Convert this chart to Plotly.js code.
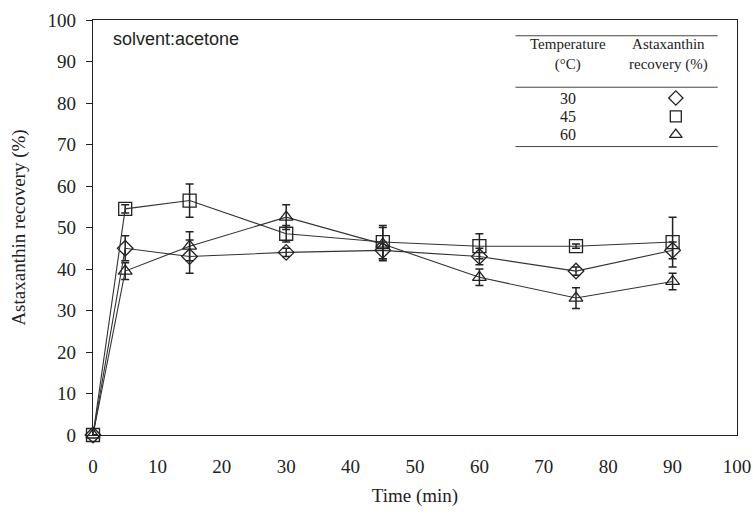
<!DOCTYPE html>
<html>
<head>
<meta charset="utf-8">
<script src="https://cdn.plot.ly/plotly-3.0.1.min.js"></script>
<style>
  html, body { margin: 0; padding: 0; background: #fff; }
  #chart { width: 753px; height: 516px; }
</style>
</head>
<body>
<div id="chart"></div>
<script>
// Extraction time (min)
const time = [0, 5, 15, 30, 45, 60, 75, 90];

// Astaxanthin recovery (%) and standard deviations per temperature
const rec30 = [0, 45, 43, 44, 44.5, 43, 39.5, 44.5];
const err30 = [0, 3, 4, 1, 2, 2, 1, 2];
const rec45 = [0, 54.5, 56.5, 48.5, 46.5, 45.5, 45.5, 46.5];
const err45 = [0, 1, 4, 2, 4, 3, 0.5, 6];
const rec60 = [0, 39.5, 45.5, 52.5, 46, 38, 33, 37];
const err60 = [0, 2, 3.5, 3, 4, 2, 2.5, 2];

// Legend table rows
const tempLabels = ['30', '45', '60'];
const tempSymbols = ['diamond-open', 'square-open', 'triangle-up-open'];

const serif = 'Liberation Serif, Times New Roman, serif';
const ink = '#222';

function series(y, err, symbol, size) {
  return {
    x: time, y: y, type: 'scatter', mode: 'lines+markers',
    line: { color: '#333', width: 1.1 },
    marker: { symbol: symbol, size: size, color: ink, line: { color: ink, width: 1.3 } },
    error_y: { type: 'data', array: err, visible: true, color: ink, thickness: 1.5, width: 4 },
    cliponaxis: false, showlegend: false
  };
}

const traces = [
  series(rec60, err60, 'triangle-up-open', 12),
  series(rec30, err30, 'diamond-open', 12),
  series(rec45, err45, 'square-open', 13),
  // symbols in the legend table (drawn on an overlay axis spanning the frame)
  {
    x: [0.905, 0.905, 0.905], y: [0.812, 0.768, 0.724],
    xaxis: 'x2', yaxis: 'y2', type: 'scatter', mode: 'markers',
    marker: { symbol: tempSymbols, size: 11, color: ink, line: { color: ink, width: 1.3 } },
    showlegend: false, hoverinfo: 'skip'
  }
];

const rowY = [0.812, 0.768, 0.724];
const annotations = [
  { xref: 'paper', yref: 'paper', x: 0.028, y: 0.955, xanchor: 'left', yanchor: 'middle',
    text: 'solvent:acetone', showarrow: false,
    font: { family: 'Liberation Sans, Arial, sans-serif', size: 18, color: ink } },
  { xref: 'paper', yref: 'paper', x: 0.737, y: 0.918, xanchor: 'center', yanchor: 'middle',
    text: 'Temperature<br>(°C)', showarrow: false,
    font: { family: serif, size: 15, color: ink } },
  { xref: 'paper', yref: 'paper', x: 0.893, y: 0.918, xanchor: 'center', yanchor: 'middle',
    text: 'Astaxanthin<br>recovery (%)', showarrow: false,
    font: { family: serif, size: 15, color: ink } }
];
tempLabels.forEach((t, i) => annotations.push({
  xref: 'paper', yref: 'paper', x: 0.737, y: rowY[i], xanchor: 'center', yanchor: 'middle',
  text: t, showarrow: false, font: { family: serif, size: 16, color: ink }
}));

const tableLine = y => ({
  type: 'line', xref: 'paper', yref: 'paper', x0: 0.656, x1: 0.97, y0: y, y1: y,
  line: { color: '#444', width: 1 }
});

const layout = {
  width: 753, height: 516,
  margin: { l: 93, r: 16, t: 20, b: 81 },
  paper_bgcolor: '#fff', plot_bgcolor: '#fff',
  showlegend: false,
  xaxis: {
    range: [0, 100], tickvals: [0, 10, 20, 30, 40, 50, 60, 70, 80, 90, 100],
    ticks: 'outside', ticklen: 0, ticklabelstandoff: 14, showgrid: false, zeroline: false,
    showline: true, mirror: true, linecolor: ink, linewidth: 1.3,
    tickfont: { family: serif, size: 19, color: ink },
    title: { text: 'Time (min)', font: { family: serif, size: 19, color: ink }, standoff: 12 }
  },
  yaxis: {
    range: [0, 100], dtick: 10,
    ticks: 'outside', ticklen: 6, tickcolor: ink, ticklabelstandoff: 6,
    showgrid: false, zeroline: false,
    showline: true, mirror: true, linecolor: ink, linewidth: 1.3,
    tickfont: { family: serif, size: 19, color: ink },
    title: { text: 'Astaxanthin recovery (%)', font: { family: serif, size: 19, color: ink }, standoff: 16 }
  },
  xaxis2: { overlaying: 'x', range: [0, 1], visible: false },
  yaxis2: { overlaying: 'y', range: [0, 1], visible: false },
  annotations: annotations,
  shapes: [tableLine(0.962), tableLine(0.838), tableLine(0.695)]
};

Plotly.newPlot('chart', traces, layout, { displayModeBar: false, staticPlot: true });
</script>
</body>
</html>
